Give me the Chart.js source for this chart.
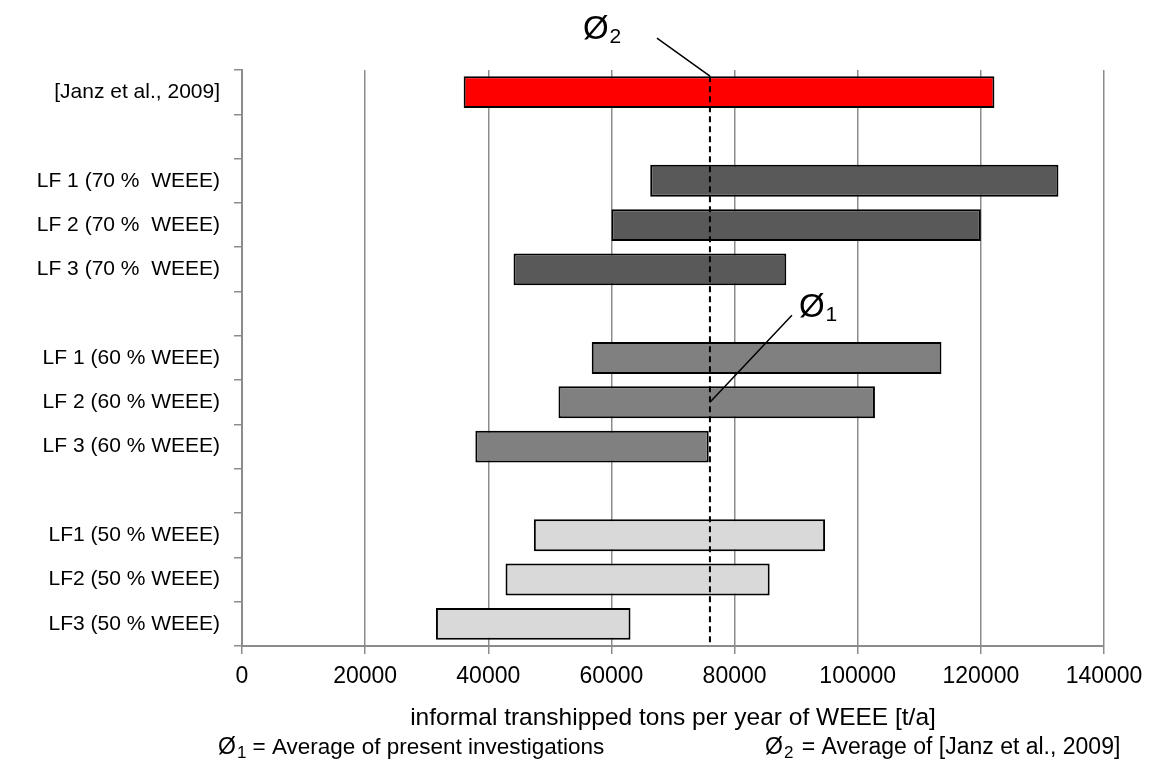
<!DOCTYPE html>
<html>
<head>
<meta charset="utf-8">
<script src="https://cdn.jsdelivr.net/npm/chart.js@4"></script>
<style>
  html, body { margin: 0; padding: 0; background: #fff; }
  #wrap { width: 1149px; height: 771px; position: relative; }
</style>
</head>
<body>
<div id="wrap"><canvas id="c-weee"></canvas></div>
<script>
// Informal transhipment of WEEE: range per scenario, floating horizontal bars

var categories = [
  "[Janz et al., 2009]", "",
  "LF 1 (70 %  WEEE)", "LF 2 (70 %  WEEE)", "LF 3 (70 %  WEEE)", "",
  "LF 1 (60 % WEEE)", "LF 2 (60 % WEEE)", "LF 3 (60 % WEEE)", "",
  "LF1 (50 % WEEE)", "LF2 (50 % WEEE)", "LF3 (50 % WEEE)"
];
var lowValues  = [36000, null, 66300, 60000, 44100, null, 56800, 51400, 37900, null, 47400, 42800, 31500];
var highValues = [122200, null, 132600, 120000, 88400, null, 113600, 102800, 75800, null, 94700, 85700, 63100];
var barColors  = ["#ff0000", null, "#595959", "#595959", "#595959", null,
                  "#808080", "#808080", "#808080", null, "#d9d9d9", "#d9d9d9", "#d9d9d9"];
var xTicks = [0, 20000, 40000, 60000, 80000, 100000, 120000, 140000];
var averageValue = 76000;           // dashed Ø line
var avg1Category = "LF 2 (60 % WEEE)";

var FONT = "'Liberation Sans', Arial, sans-serif";
var AXIS_GREY = "#8c8c8c";

Chart.defaults.font.family = FONT;
Chart.defaults.color = "#000";

function ranges() {
  return lowValues.map(function(lo, i) {
    return lo === null ? null : [lo, highValues[i]];
  });
}

// draws "Ø" followed by a lowered, smaller index digit
function drawAvgSymbol(ctx, x, y, size, idx, subSize) {
  ctx.font = size + "px " + FONT;
  ctx.fillText("\u00d8", x, y);
  var w = ctx.measureText("\u00d8").width;
  ctx.font = subSize + "px " + FONT;
  ctx.fillText(idx, x + w + 1, y + size * 0.22);
  return x + w + 1 + ctx.measureText(idx).width;
}

// dashed average line, the two leader lines and the footnote
var averagePlugin = {
  id: "averageMarks",
  afterDatasetsDraw: function(chart) {
    var ctx = chart.ctx, xs = chart.scales.x, ys = chart.scales.y;
    var ax = xs.getPixelForValue(averageValue);
    var janz = chart.getDatasetMeta(0).data[0];
    var top = janz.y - janz.height / 2;
    var yAvg1 = ys.getPixelForValue(categories.indexOf(avg1Category));

    ctx.save();
    ctx.strokeStyle = "#000";
    ctx.lineWidth = 2;
    ctx.setLineDash([6, 4]);
    ctx.beginPath();
    ctx.moveTo(ax, top);
    ctx.lineTo(ax, chart.chartArea.bottom);
    ctx.stroke();

    ctx.setLineDash([]);
    ctx.lineWidth = 1.5;
    ctx.beginPath();
    ctx.moveTo(ax, top);
    ctx.lineTo(ax - 53, top - 38);
    ctx.moveTo(ax, yAvg1);
    ctx.lineTo(ax + 82, yAvg1 - 87);
    ctx.stroke();

    ctx.fillStyle = "#000";
    ctx.textBaseline = "middle";
    ctx.textAlign = "left";
    drawAvgSymbol(ctx, ax - 127, top - 46, 33, "2", 21);
    drawAvgSymbol(ctx, ax + 89, yAvg1 - 94, 33, "1", 21);

    // footnote under the axis title
    var fy = chart.height - 23;
    var x1 = drawAvgSymbol(ctx, 218, fy, 23, "1", 17);
    ctx.font = "22.5px " + FONT;
    ctx.fillText(" = Average of present investigations", x1, fy);
    var x2 = drawAvgSymbol(ctx, 765, fy, 23, "2", 17);
    ctx.font = "23px " + FONT;
    ctx.fillText(" = Average of [Janz et al., 2009]", x2 + 2, fy);
    ctx.restore();
  }
};

new Chart(document.getElementById("c-weee").getContext("2d"), {
  type: "bar",
  data: {
    labels: categories,
    datasets: [{
      data: ranges(),
      backgroundColor: barColors,
      borderColor: "#000",
      borderWidth: 2,
      borderSkipped: false,
      categoryPercentage: 1,
      barPercentage: 0.72
    }]
  },
  options: {
    indexAxis: "y",
    responsive: true,
    maintainAspectRatio: false,
    animation: false,
    layout: { padding: { top: 70, right: 45, left: 0, bottom: 0 } },
    plugins: { legend: { display: false }, tooltip: { enabled: false } },
    scales: {
      x: {
        min: 0, max: 140000,
        afterBuildTicks: function(s) { s.ticks = xTicks.map(function(v) { return { value: v }; }); },
        afterFit: function(s) { s.height = 125; s.paddingLeft = 0; s.paddingRight = 0; },
        grid: { color: AXIS_GREY, lineWidth: 1.5, tickLength: 8 },
        border: { color: AXIS_GREY, width: 2 },
        ticks: { font: { size: 23 }, padding: 9, maxRotation: 0, callback: function(v) { return String(v); } },
        title: {
          display: true,
          text: "informal transhipped tons per year of WEEE [t/a]",
          font: { size: 24.5 },
          padding: { top: 0, bottom: 38 }
        }
      },
      y: {
        afterFit: function(s) { s.width = 242; },
        grid: { drawOnChartArea: false, offset: true, color: AXIS_GREY, lineWidth: 1.5, tickLength: 8 },
        border: { color: AXIS_GREY, width: 2 },
        ticks: { font: { size: 21 }, padding: 14, autoSkip: false }
      }
    }
  },
  plugins: [averagePlugin]
});
</script>
</body>
</html>
